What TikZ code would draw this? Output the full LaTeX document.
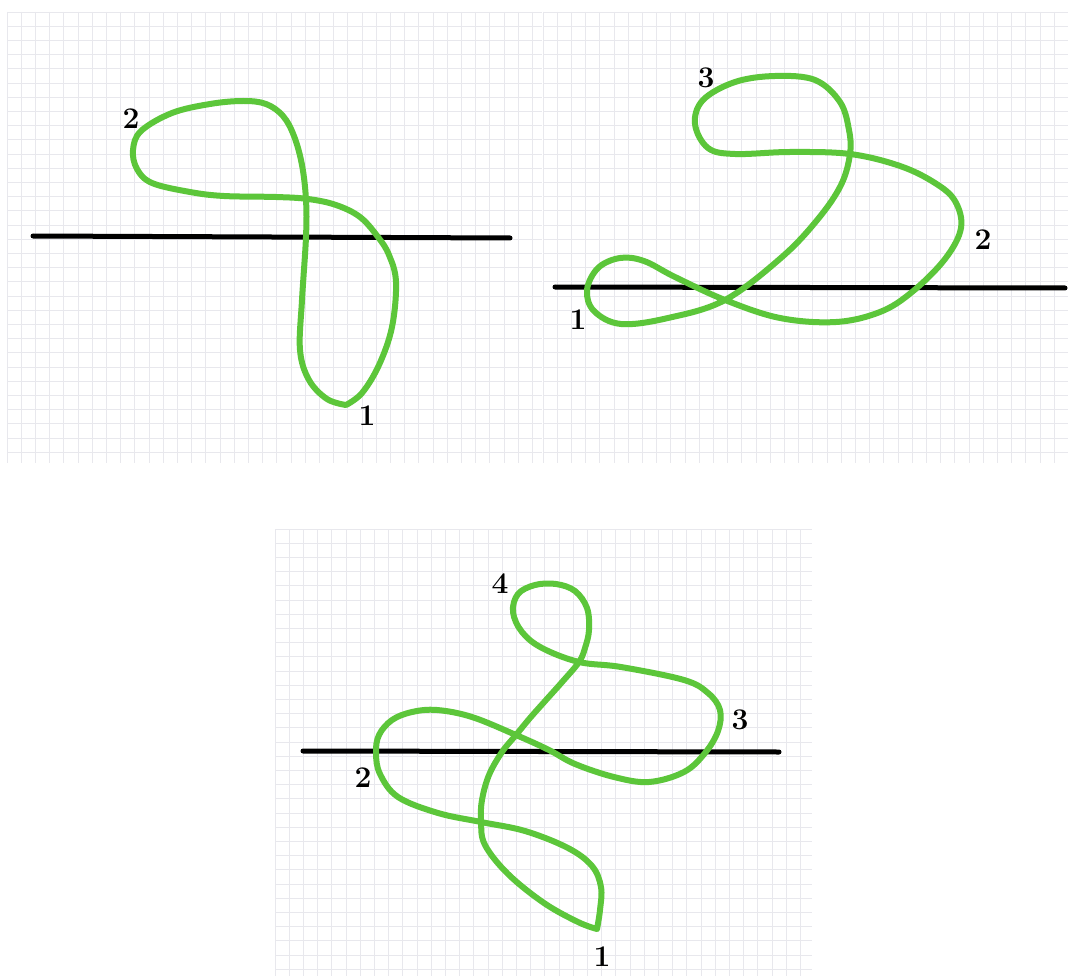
\documentclass[tikz,border=0pt]{standalone}
\usepackage{tikz}
\definecolor{knotgreen}{RGB}{92,198,58}
\definecolor{gridgray}{RGB}{232,232,237}
\newcommand\mygridpanel[4]{%
  \fill[white] (#1,#2) rectangle (#3,#4);
  \pgfmathtruncatemacro\nx{floor((#3-#1)/14.2)}
  \pgfmathtruncatemacro\ny{floor((#4-#2)/14.2)}
  \foreach \i in {0,...,\nx} \draw[gridline] ({#1+14.2*\i},#2) -- ({#1+14.2*\i},#4);
  \foreach \j in {0,...,\ny} \draw[gridline] (#1,{#2+14.2*\j}) -- (#3,{#2+14.2*\j});
}
\begin{document}
\begin{tikzpicture}[x=1pt,y=-1pt,
  gridline/.style={draw=gridgray,line width=0.8pt},
  axisline/.style={draw=black,line width=5pt,line cap=round},
  knot/.style={draw=knotgreen,line width=6pt,line cap=round,line join=round},
  lbl/.style={font=\fontsize{30}{30}\selectfont\bfseries,text=black,inner sep=0pt}]
\useasboundingbox[fill=white] (0,0) rectangle (1068,976);
% grids
\mygridpanel{7}{12}{542}{463}
\mygridpanel{543}{12}{1068}{463}
\mygridpanel{275}{529}{812}{976}

% ---------- panel 1 ----------
\coordinate (a1) at (33,236);
\coordinate (b1) at (510,238);
\draw[axisline] (a1) -- (b1);
\draw[knot] plot[smooth,tension=0.6] coordinates {
 (346,405) (362,393) (379,365) (392,327) (396,282) (389,255) (378,237)
 (360,217) (336,205) (308,199) (276,197) (224,196) (190,192) (152,183)
 (137,169) (133,150) (141,131) (172,113) (210,104) (243,101) (266,104)
 (283,116) (294,136) (302,165) (306,200) (306,237) (302,300) (300,350)
 (309,380) (327,399) (346,405)};
\node[lbl] (p1n2) at (131,119) {2};
\node[lbl] (p1n1) at (367,416) {1};

% ---------- panel 2 ----------
\coordinate (a2) at (555,287);
\coordinate (b2) at (1065,288);
\draw[axisline] (a2) -- (b2);
\draw[knot] plot[smooth cycle,tension=0.6] coordinates {
 (587,290) (598,268) (620,258) (644,261) (675,277) (725,300) (780,318)
 (836,322) (880,312) (912,292) (945,259) (961,228) (955,201) (935,183)
 (900,166) (850,154) (790,152) (735,154) (708,148) (695,124) (703,100)
 (735,82) (775,76) (815,80) (840,102) (849,130) (850,154) (841,185)
 (818,219) (782,257) (725,300) (668,318) (621,324) (594,311)};
\node[lbl] (p2n3) at (706,78) {3};
\node[lbl] (p2n2) at (983,240) {2};
\node[lbl] (p2n1) at (578,320) {1};

% ---------- panel 3 ----------
\coordinate (a3) at (303,751);
\coordinate (b3) at (779,752);
\draw[axisline] (a3) -- (b3);
\draw[knot] plot[smooth,tension=0.6] coordinates {
 (597,929) (600,910) (601,887) (592,866) (568,848) (525,831) (481,822)
 (438,813) (398,797) (380,774) (376,753) (379,735) (392,720) (412,712)
 (437,710) (472,717) (516,735) (549,750) (575,764) (614,777) (649,782)
 (684,772) (705,753) (718,731) (720,710) (708,693) (684,680) (621,667)
 (579,662) (542,648) (522,632) (513,612) (518,594) (535,585) (556,584)
 (575,591) (587,608) (589,630) (585,648) (579,662) (563,681) (546,700)
 (530,718) (516,735) (502,752) (489,775) (482,800) (481,822) (485,845)
 (508,874) (544,903) (578,922) (597,929)};
\node[lbl] (p3n4) at (500,584) {4};
\node[lbl] (p3n3) at (740,720) {3};
\node[lbl] (p3n2) at (363,778) {2};
\node[lbl] (p3n1) at (602,957) {1};
\end{tikzpicture}
\end{document}
